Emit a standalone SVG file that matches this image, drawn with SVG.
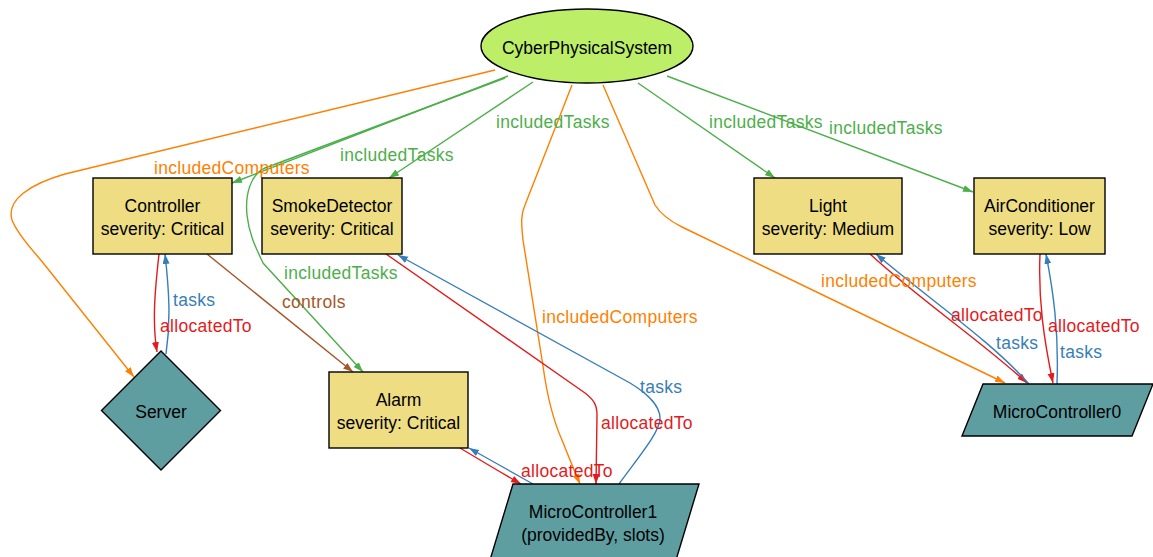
<svg xmlns="http://www.w3.org/2000/svg" width="1153" height="557" viewBox="0 0 1153 557">
<style>
.n{stroke:#000;stroke-width:1.4}
.box{fill:#eedd82}
.comp{fill:#5f9ea0}
.t{font-family:"Liberation Sans",Arial,sans-serif;font-size:17.5px;fill:#000;text-anchor:middle}
.e{fill:none;stroke-width:1.4}
.l{font-family:"Liberation Sans",Arial,sans-serif;font-size:17.5px;letter-spacing:0.3px}
.or{stroke:#ff7f00}.gr{stroke:#4daf4a}.rd{stroke:#e41a1c}.bl{stroke:#377eb8}.br{stroke:#a65628}
.lor{fill:#ff7f00}.lgr{fill:#4daf4a}.lrd{fill:#e41a1c}.lbl{fill:#377eb8}.lbr{fill:#a65628}
</style>
<defs>
<marker id="aor" markerUnits="userSpaceOnUse" markerWidth="11" markerHeight="8" refX="10" refY="3.5" orient="auto"><path d="M0,0 L10,3.5 L0,7 z" fill="#ff7f00"/></marker>
<marker id="agr" markerUnits="userSpaceOnUse" markerWidth="11" markerHeight="8" refX="10" refY="3.5" orient="auto"><path d="M0,0 L10,3.5 L0,7 z" fill="#4daf4a"/></marker>
<marker id="ard" markerUnits="userSpaceOnUse" markerWidth="11" markerHeight="8" refX="10" refY="3.5" orient="auto"><path d="M0,0 L10,3.5 L0,7 z" fill="#e41a1c"/></marker>
<marker id="abl" markerUnits="userSpaceOnUse" markerWidth="11" markerHeight="8" refX="10" refY="3.5" orient="auto"><path d="M0,0 L10,3.5 L0,7 z" fill="#377eb8"/></marker>
<marker id="abr" markerUnits="userSpaceOnUse" markerWidth="11" markerHeight="8" refX="10" refY="3.5" orient="auto"><path d="M0,0 L10,3.5 L0,7 z" fill="#a65628"/></marker>
</defs>
<rect width="1153" height="557" fill="#fff"/>
<g id="connectors">
<!-- orange includedComputers -->
<path class="e or" marker-end="url(#aor)" d="M495,70 L65,174 C30,184 6,200 12,220 C18,236 38,256 44,264 L134,377"/>
<path class="e or" marker-end="url(#aor)" d="M572,85 L525,205 C521,214 521,222 523,240 L543,366 C547,395 553,420 562,440 C568,455 574,470 580,484"/>
<path class="e or" marker-end="url(#aor)" d="M603,85 L655,205 C660,213 668,220 682,227 L1005,383"/>
<!-- green includedTasks -->
<path class="e gr" marker-end="url(#agr)" d="M508,76 L232,183"/>
<path class="e gr" marker-end="url(#agr)" d="M505,78 L265,168 C250,175 245,195 247,215 C249,235 257,250 263,263 L363,372"/>
<path class="e gr" marker-end="url(#agr)" d="M533,82 L389,178"/>
<path class="e gr" marker-end="url(#agr)" d="M638,83 L775,178"/>
<path class="e gr" marker-end="url(#agr)" d="M667,76 L973,192"/>
<!-- red allocatedTo -->
<path class="e rd" marker-end="url(#ard)" d="M159,254 C155,290 152,322 157,352"/>
<path class="e rd" marker-end="url(#ard)" d="M386,254 L585,393 C594,400 597,405 597,415 L596,484"/>
<path class="e rd" marker-end="url(#ard)" d="M460,448 C480,460 500,472 521,484"/>
<path class="e rd" marker-end="url(#ard)" d="M870,254 C920,300 980,340 1027,383"/>
<path class="e rd" marker-end="url(#ard)" d="M1040,254 C1038,300 1044,340 1053,383"/>
<!-- blue tasks -->
<path class="e bl" marker-end="url(#abl)" d="M166,354 C171,320 169,290 165,254"/>
<path class="e bl" marker-end="url(#abl)" d="M619,484 C640,455 660,432 660,418 C660,405 645,392 630,383 L398,255"/>
<path class="e bl" marker-end="url(#abl)" d="M533,484 C512,472 490,460 469,448"/>
<path class="e bl" marker-end="url(#abl)" d="M1029,384 C990,340 930,300 876,254"/>
<path class="e bl" marker-end="url(#abl)" d="M1057,384 C1059,330 1053,290 1046,254"/>
<!-- brown controls -->
<path class="e br" marker-end="url(#abr)" d="M207,254 L353,372"/>
</g>
<g id="edge-labels">
<text class="l lor" x="154" y="174">includedComputers</text>
<text class="l lor" x="542" y="323">includedComputers</text>
<text class="l lor" x="821" y="287">includedComputers</text>
<text class="l lgr" x="496" y="128">includedTasks</text>
<text class="l lgr" x="340" y="161">includedTasks</text>
<text class="l lgr" x="284" y="279">includedTasks</text>
<text class="l lgr" x="709" y="128">includedTasks</text>
<text class="l lgr" x="829" y="134">includedTasks</text>
<text class="l lrd" x="160" y="332">allocatedTo</text>
<text class="l lrd" x="601" y="429">allocatedTo</text>
<text class="l lrd" x="521" y="477">allocatedTo</text>
<text class="l lrd" x="951" y="321">allocatedTo</text>
<text class="l lrd" x="1048" y="332">allocatedTo</text>
<text class="l lbl" x="173" y="306">tasks</text>
<text class="l lbl" x="640" y="393">tasks</text>
<text class="l lbl" x="996" y="349">tasks</text>
<text class="l lbl" x="1060" y="358">tasks</text>
<text class="l lbr" x="282" y="308">controls</text>
</g>
<g id="CyberPhysicalSystem">
<ellipse class="n" cx="587" cy="46" rx="106" ry="37" fill="#bcee68"/>
<text class="t" x="587" y="54">CyberPhysicalSystem</text>
</g>
<g id="Controller">
<rect class="n box" x="93" y="178" width="139" height="76"/>
<text class="t" x="162.5" y="212">Controller</text>
<text class="t" x="162.5" y="235">severity: Critical</text>
</g>
<g id="SmokeDetector">
<rect class="n box" x="262" y="178" width="140" height="76"/>
<text class="t" x="332" y="212">SmokeDetector</text>
<text class="t" x="332" y="235">severity: Critical</text>
</g>
<g id="Light">
<rect class="n box" x="754" y="178" width="148" height="76"/>
<text class="t" x="828" y="212">Light</text>
<text class="t" x="828" y="235">severity: Medium</text>
</g>
<g id="AirConditioner">
<rect class="n box" x="974" y="178" width="131" height="76"/>
<text class="t" x="1039.5" y="212">AirConditioner</text>
<text class="t" x="1039.5" y="235">severity: Low</text>
</g>
<g id="Alarm">
<rect class="n box" x="329" y="372" width="139" height="76"/>
<text class="t" x="398.5" y="406">Alarm</text>
<text class="t" x="398.5" y="429">severity: Critical</text>
</g>
<g id="Server">
<polygon class="n comp" points="161,351 220.5,410.5 161,470 101.5,410.5"/>
<text class="t" x="161" y="418">Server</text>
</g>
<g id="MicroController0">
<polygon class="n comp" points="983,384 1153,384 1132,436 962,436"/>
<text class="t" x="1057" y="418">MicroController0</text>
</g>
<g id="MicroController1">
<polygon class="n comp" points="513,484 699,484 676,560 490,560"/>
<text class="t" x="593" y="518">MicroController1</text>
<text class="t" x="593" y="541">(providedBy, slots)</text>
</g>
</svg>
